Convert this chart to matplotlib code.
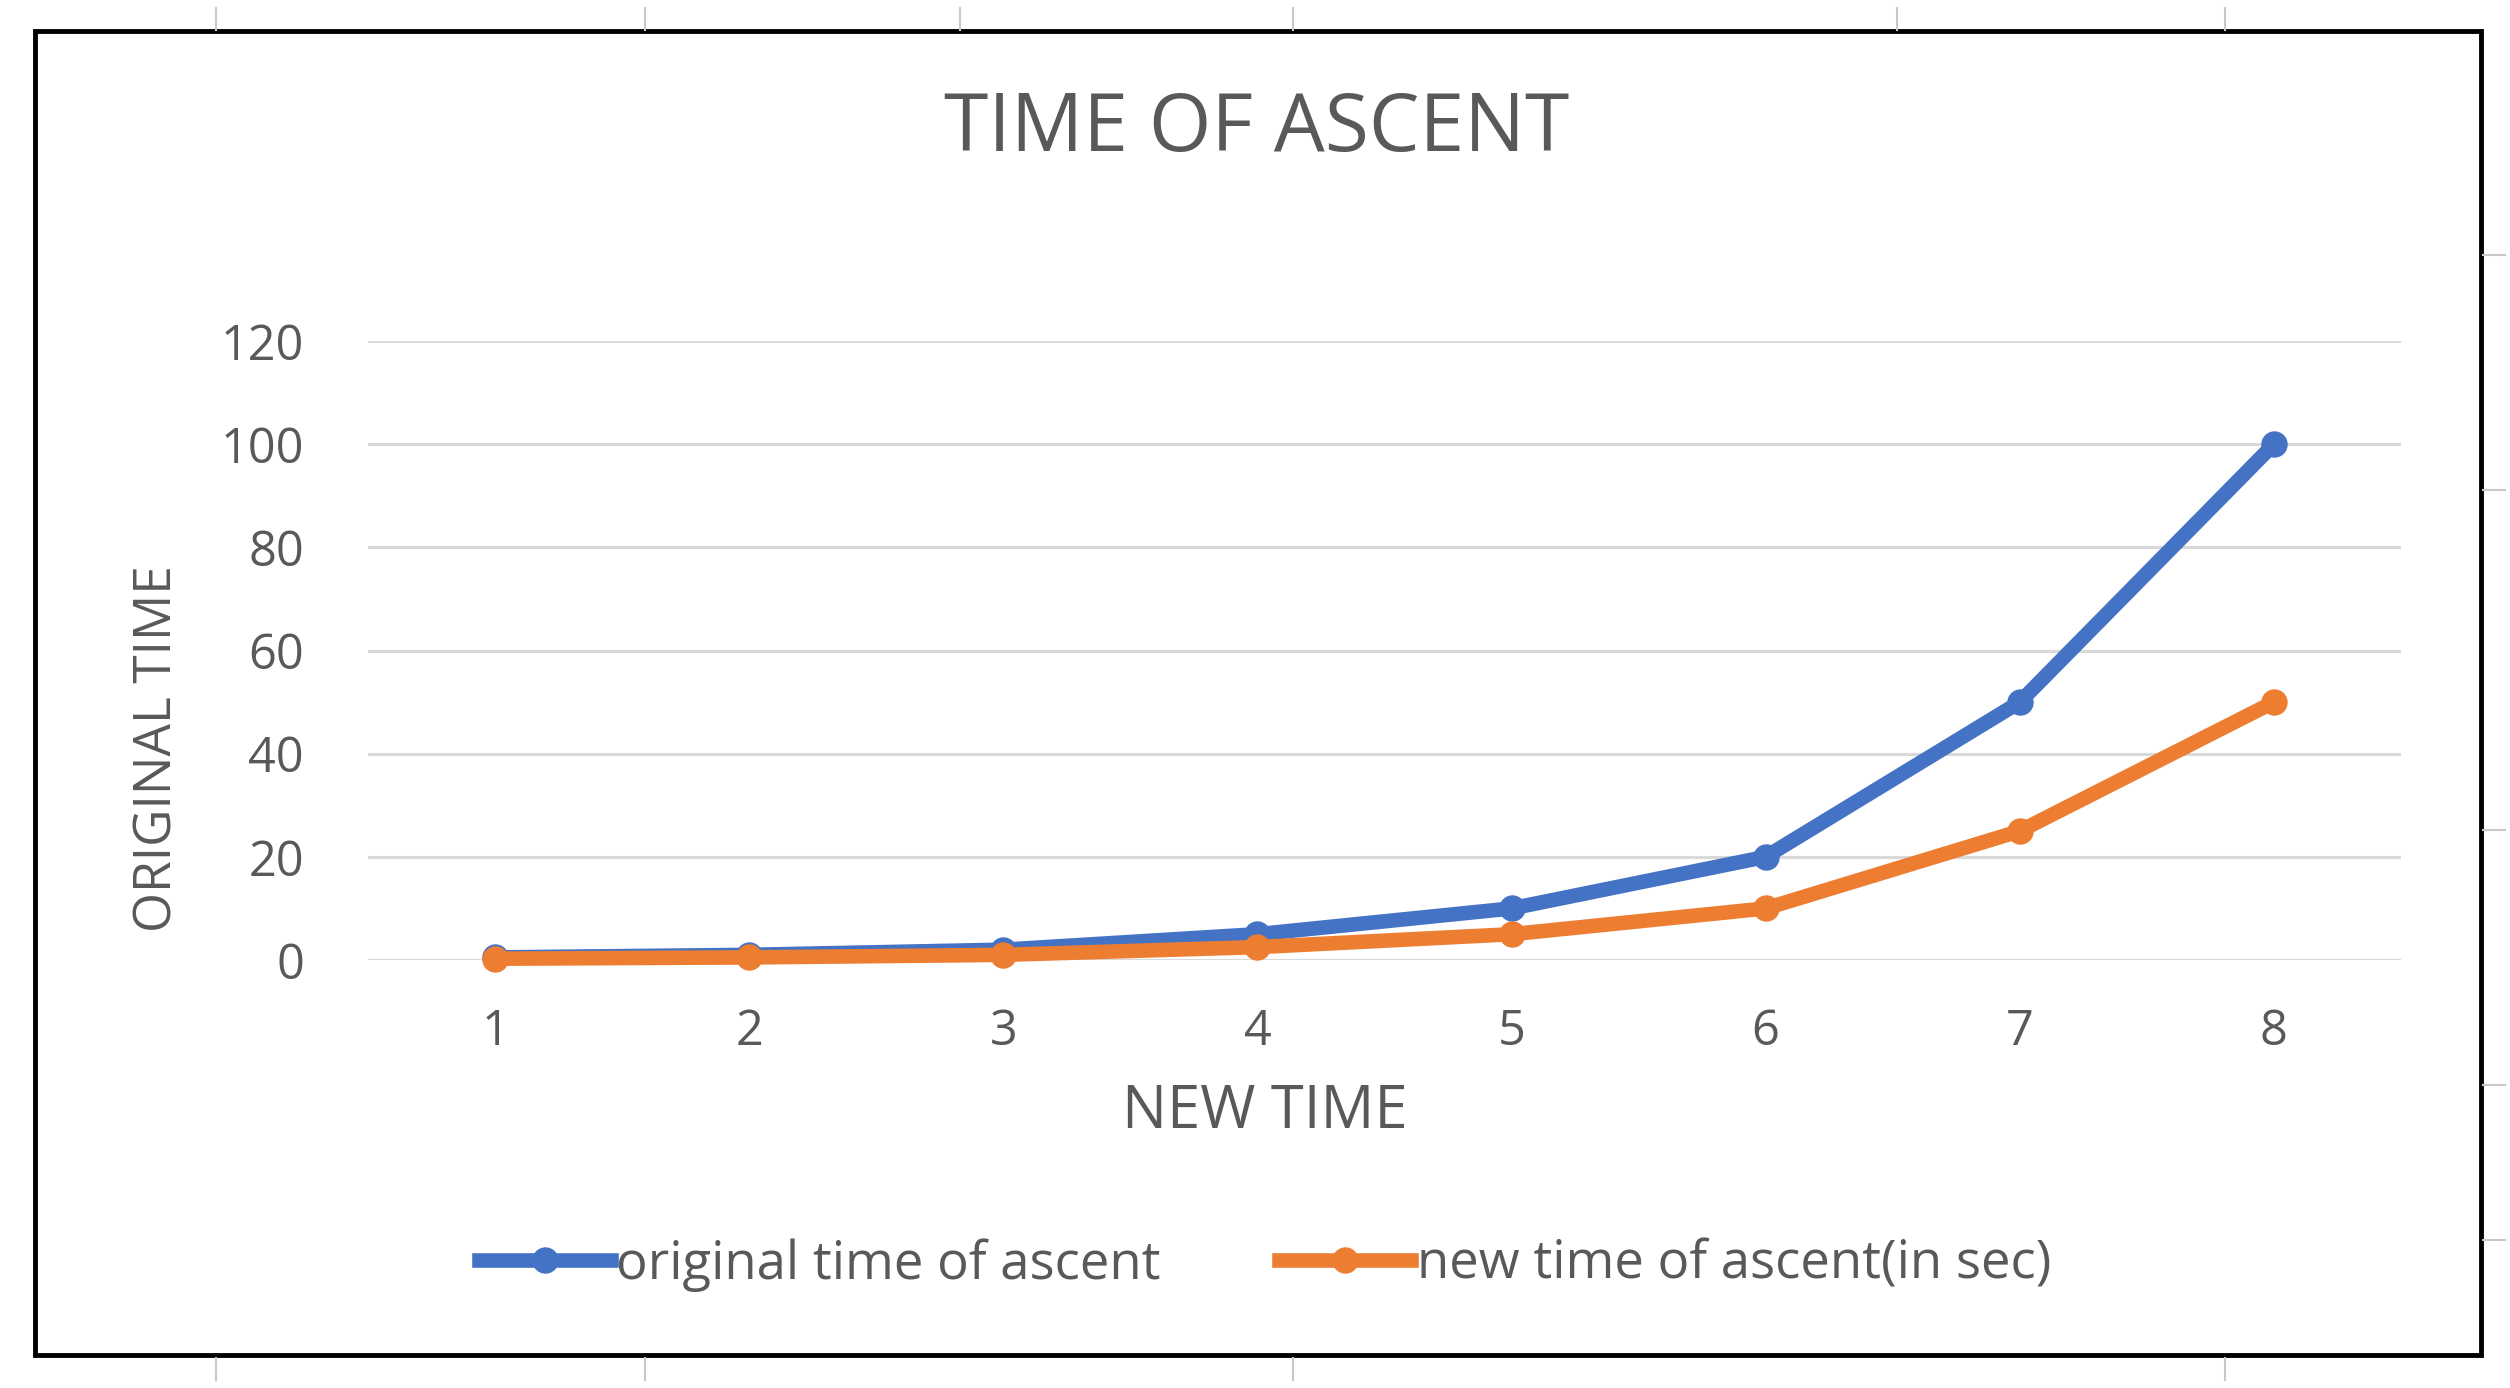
import matplotlib
matplotlib.use("Agg")
import matplotlib.pyplot as plt
from matplotlib.patches import Rectangle
from matplotlib.lines import Line2D

# data
new_time = [1, 2, 3, 4, 5, 6, 7, 8]
original_ascent = [0.5, 1, 2, 5, 10, 20, 50, 100]
new_ascent = [0.25, 0.5, 1, 2.5, 5, 10, 25, 50]
y_ticks = [0, 20, 40, 60, 80, 100, 120]

blue = "#4472C4"
orange = "#ED7D31"
text_col = "#595959"
grid_col = "#D9D9D9"

plt.rcParams['font.family'] = ['Open Sans', 'DejaVu Sans']

W, H = 2510, 1388
fig = plt.figure(figsize=(W / 100, H / 100), dpi=100)

# plot area in pixel coords of the reference
x0, x1 = 368, 2401
y_top, y_bot = 341, 960
ax = fig.add_axes([x0 / W, 1 - y_bot / H, (x1 - x0) / W, (y_bot - y_top) / H])

lw, ms = 10.5, 18
ax.plot(new_time, original_ascent, color=blue, lw=lw, marker='o', ms=ms,
        solid_capstyle='round', solid_joinstyle='round', clip_on=False, zorder=3)
ax.plot(new_time, new_ascent, color=orange, lw=lw, marker='o', ms=ms,
        solid_capstyle='round', solid_joinstyle='round', clip_on=False, zorder=4)

ax.set_xlim(0.5, 8.5)
ax.set_ylim(0, 120)
ax.set_yticks(y_ticks)
ax.set_xticks(new_time)
ax.grid(axis='y', color=grid_col, lw=2.2, zorder=0)
ax.set_axisbelow(True)
for s in ax.spines.values():
    s.set_visible(False)
ax.tick_params(length=0, labelsize=35, colors=text_col, pad=0)
ax.tick_params(axis='y', pad=46)
ax.tick_params(axis='x', pad=34)

# axis titles placed where the reference has them
fig.text(1265 / W, 1 - 1112 / H, 'NEW TIME', fontsize=43, color=text_col,
         ha='center', va='center')
fig.text(158 / W, 1 - 749 / H, 'ORIGINAL TIME', fontsize=37, color=text_col,
         ha='center', va='center', rotation=90)

fig.text(1257 / W, 1 - 130 / H, 'TIME OF ASCENT', fontsize=58, color=text_col,
         ha='center', va='center')

# legend
handles = [Line2D([0], [0], color=blue, lw=lw, marker='o', ms=ms),
           Line2D([0], [0], color=orange, lw=lw, marker='o', ms=ms)]
fig.legend(handles, ['original time of ascent', 'new time of ascent(in sec)'],
           loc='center', bbox_to_anchor=(1265 / W, 1 - 1265 / H), ncol=2,
           frameon=False, fontsize=38, labelcolor=text_col, handlelength=2.5,
           handletextpad=0.1, columnspacing=2.25)

# sheet cell lines peeking round the chart
for xp in [216, 645, 960, 1293, 1897, 2225]:
    fig.add_artist(Line2D([xp / W, xp / W], [1 - 8 / H, 1 - 30 / H], color='#C8C8C8', lw=1.5))
for xp in [216, 645, 1293, 2225]:
    fig.add_artist(Line2D([xp / W, xp / W], [1 - 1358 / H, 1 - 1380 / H], color='#C8C8C8', lw=1.5))
for yp in [255, 490, 830, 1085, 1240]:
    fig.add_artist(Line2D([2483 / W, 2505 / W], [1 - yp / H, 1 - yp / H], color='#C8C8C8', lw=1.5))

# black frame of the pasted chart
fig.add_artist(Rectangle((35 / W, 1 - 1355 / H), (2481 - 35) / W, (1355 - 31) / H,
                         transform=fig.transFigure, fill=False, ec='black', lw=3.5))

fig.savefig('out.png', dpi=100, facecolor='white')
